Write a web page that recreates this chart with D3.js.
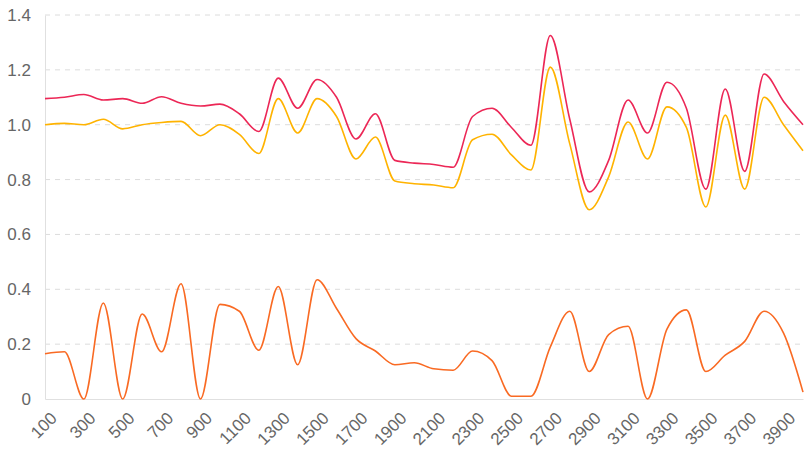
<!DOCTYPE html>
<html>
<head>
<meta charset="utf-8">
<script src="https://cdn.jsdelivr.net/npm/d3@7"></script>
<style>
  body { margin: 0; background: #fff; }
  text { font-family: "Helvetica Neue", Arial, "Liberation Sans", sans-serif; }
</style>
</head>
<body>
<div id="chart"></div>
<script>
// x categories 100..4000
const categories = [100,200,300,400,500,600,700,800,900,1000,1100,1200,1300,1400,1500,1600,1700,1800,1900,2000,
  2100,2200,2300,2400,2500,2600,2700,2800,2900,3000,3100,3200,3300,3400,3500,3600,3700,3800,3900,4000];
const redValues = [1.095,1.1,1.11,1.09,1.095,1.078,1.102,1.078,1.068,1.075,1.04,0.975,1.17,1.06,1.165,1.10,0.948,1.04,0.87,0.86,
  0.855,0.845,1.03,1.06,0.99,0.925,1.325,1.02,0.755,0.87,1.09,0.97,1.155,1.06,0.765,1.13,0.83,1.185,1.085,1.0];
const yellowValues = [1.0,1.005,1.0,1.02,0.985,1.0,1.008,1.012,0.96,1.0,0.965,0.895,1.095,0.97,1.095,1.03,0.875,0.955,0.795,0.785,
  0.78,0.77,0.945,0.965,0.89,0.835,1.21,0.93,0.69,0.81,1.01,0.875,1.065,0.99,0.70,1.035,0.765,1.10,1.0,0.905];
const orangeValues = [0.165,0.172,0.0,0.35,0.0,0.31,0.172,0.42,0.0,0.345,0.32,0.178,0.41,0.125,0.435,0.33,0.22,0.175,0.125,0.132,
  0.11,0.105,0.175,0.14,0.01,0.01,0.19,0.32,0.10,0.235,0.265,0.0,0.255,0.325,0.10,0.16,0.21,0.32,0.24,0.025];
const yTicks = [0,0.2,0.4,0.6,0.8,1.0,1.2,1.4];

const W = 804, H = 465;
const margin = { top: 15, right: 1, bottom: 66, left: 45 };

const svg = d3.select("#chart").append("svg").attr("width", W).attr("height", H);

const x = d3.scalePoint().domain(categories).range([margin.left, W - margin.right]);
const y = d3.scaleLinear().domain([0, 1.4]).range([H - margin.bottom, margin.top]);

// grid lines
svg.append("g").selectAll("line").data(yTicks.slice(1)).join("line")
  .attr("x1", margin.left).attr("x2", W)
  .attr("y1", d => y(d)).attr("y2", d => y(d))
  .attr("stroke", "#dcdcdc").attr("stroke-dasharray", "5,5");

// axes
const yAxis = svg.append("g").attr("transform", `translate(${margin.left},0)`)
  .call(d3.axisLeft(y).tickValues(yTicks).tickSize(0).tickPadding(14)
    .tickFormat(d => d === 0 ? "0" : d3.format(".1f")(d)));
yAxis.select(".domain").attr("stroke", "#e0e0e0");
yAxis.selectAll("text").attr("fill", "#666").attr("font-size", 17);

const xAxis = svg.append("g").attr("transform", `translate(0,${H - margin.bottom})`)
  .call(d3.axisBottom(x).tickValues(categories.filter((d, i) => i % 2 === 0)).tickSize(0));
xAxis.select(".domain").attr("stroke", "#e0e0e0");
xAxis.selectAll("text").attr("fill", "#666").attr("font-size", 17)
  .attr("text-anchor", "end").attr("dy", "0.35em")
  .attr("transform", "translate(6,14) rotate(-45)");

// lines
const series = [
  { values: orangeValues, color: "#f96a23" },
  { values: yellowValues, color: "#ffb300" },
  { values: redValues, color: "#ec2756" }
];
const line = d3.line().x((d, i) => x(categories[i])).y(d => y(d)).curve(d3.curveMonotoneX);
svg.append("g").selectAll("path").data(series).join("path")
  .attr("d", d => line(d.values))
  .attr("fill", "none").attr("stroke", d => d.color).attr("stroke-width", 1.6);
</script>
</body>
</html>
